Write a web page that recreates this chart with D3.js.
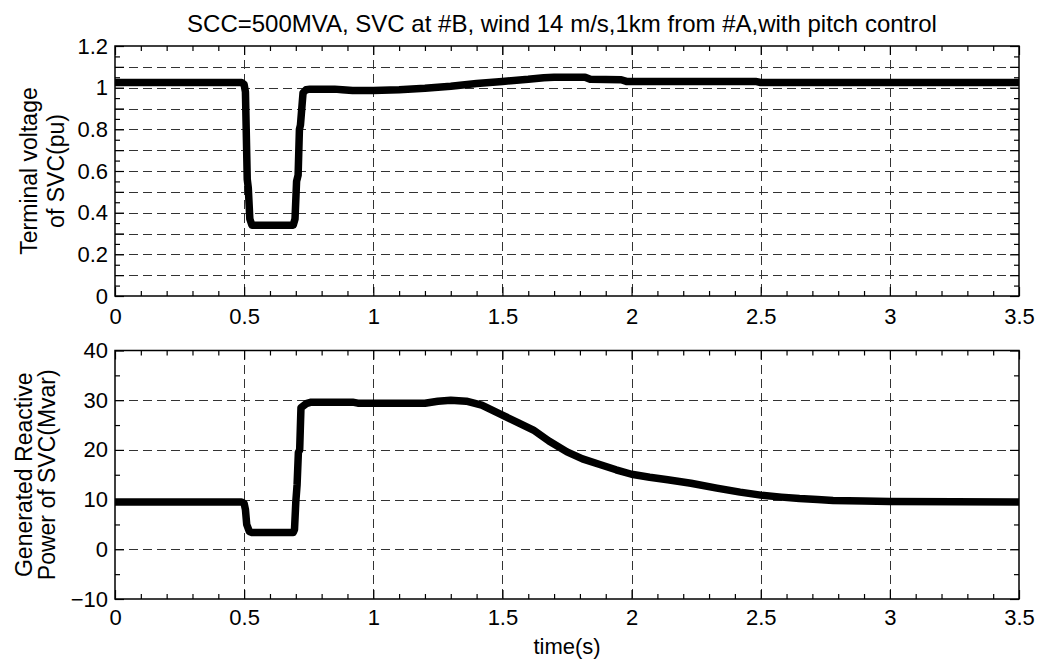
<!DOCTYPE html>
<html>
<head>
<meta charset="utf-8">
<script src="https://cdn.jsdelivr.net/npm/d3@7"></script>
<style>
  html, body { margin: 0; padding: 0; background: #fff; }
  svg text { font-family: "Liberation Sans", Arial, sans-serif; fill: #000; }
</style>
</head>
<body>
<svg id="chart" width="1037" height="662"></svg>
<script>
// ---------- data ----------
const titleText = "SCC=500MVA, SVC at #B, wind 14 m/s,1km from #A,with pitch control";
const xLabelText = "time(s)";
const topYLabel = ["Terminal voltage", "of SVC(pu)"];
const botYLabel = ["Generated Reactive", "Power of SVC(Mvar)"];

const xTicks = [0, 0.5, 1, 1.5, 2, 2.5, 3, 3.5];
const xTickLabels = ["0", "0.5", "1", "1.5", "2", "2.5", "3", "3.5"];
const xMinorTicks = [0.1,0.2,0.3,0.4,0.6,0.7,0.8,0.9,1.1,1.2,1.3,1.4,1.6,1.7,1.8,1.9,2.1,2.2,2.3,2.4,2.6,2.7,2.8,2.9,3.1,3.2,3.3,3.4];

const vTicks = [0, 0.1, 0.2, 0.3, 0.4, 0.5, 0.6, 0.7, 0.8, 0.9, 1.0, 1.1, 1.2];
const vTickLabels = ["0", "", "0.2", "", "0.4", "", "0.6", "", "0.8", "", "1", "", "1.2"];
const vMinorTicks = [0.05,0.15,0.25,0.35,0.45,0.55,0.65,0.75,0.85,0.95,1.05,1.15];

const qTicks = [-10, 0, 10, 20, 30, 40];
const qTickLabels = ["\u221210", "0", "10", "20", "30", "40"];
const qMinorTicks = [-5, 5, 15, 25, 35];

const timeV = [0, 0.49, 0.5, 0.505, 0.508, 0.512, 0.516, 0.522, 0.53, 0.69, 0.697, 0.703, 0.709, 0.714, 0.718, 0.728, 0.74, 0.755, 0.85, 0.88, 0.92, 1.0, 1.1, 1.2, 1.3, 1.4, 1.5, 1.6, 1.66, 1.7, 1.82, 1.84, 1.96, 1.98, 2.48, 2.5, 3.5];
const voltage = [1.025, 1.025, 1.015, 0.98, 0.8, 0.56, 0.52, 0.37, 0.34, 0.34, 0.37, 0.55, 0.58, 0.8, 0.82, 0.975, 0.99, 0.993, 0.993, 0.99, 0.986, 0.986, 0.99, 0.997, 1.007, 1.02, 1.03, 1.04, 1.048, 1.05, 1.05, 1.04, 1.038, 1.03, 1.03, 1.025, 1.025];

const timeQ = [0, 0.49, 0.5, 0.505, 0.51, 0.52, 0.53, 0.69, 0.695, 0.70, 0.705, 0.71, 0.715, 0.72, 0.74, 0.76, 0.92, 0.94, 1.2, 1.25, 1.3, 1.36, 1.42, 1.5, 1.56, 1.62, 1.68, 1.75, 1.81, 1.88, 1.94, 2.0, 2.07, 2.14, 2.23, 2.33, 2.42, 2.5, 2.58, 2.65, 2.72, 2.78, 2.9, 3.0, 3.5];
const reactive = [9.5, 9.5, 9.2, 8.0, 5.0, 3.6, 3.4, 3.4, 4.0, 9.5, 13, 19.5, 20, 28.5, 29.3, 29.6, 29.6, 29.4, 29.4, 29.8, 30.0, 29.8, 29.0, 27.0, 25.5, 24.0, 21.8, 19.6, 18.2, 17.0, 16.0, 15.1, 14.5, 14.0, 13.3, 12.3, 11.5, 10.9, 10.5, 10.2, 10.0, 9.8, 9.7, 9.6, 9.5];

// ---------- layout ----------
const svg = d3.select("#chart");
const left = 115, right = 1019;
const panels = [
  { top: 46, bottom: 296, domain: [0, 1.2], ticks: vTicks, labels: vTickLabels, minor: vMinorTicks,
    t: timeV, y: voltage, ylab: topYLabel, labX: [37, 64] },
  { top: 350.5, bottom: 599, domain: [-10, 40], ticks: qTicks, labels: qTickLabels, minor: qMinorTicks,
    t: timeQ, y: reactive, ylab: botYLabel, labX: [32, 55] }
];

const x = d3.scaleLinear().domain([0, 3.5]).range([left, right]);
const tickFont = 22;

panels.forEach((p, pi) => {
  const y = d3.scaleLinear().domain(p.domain).range([p.bottom, p.top]);
  const g = svg.append("g");

  // grid
  const grid = g.append("g").attr("stroke", "#333").attr("stroke-width", 1)
    .attr("stroke-dasharray", "9,5").attr("shape-rendering", "crispEdges");
  grid.selectAll("line.v").data(xTicks.slice(1, -1)).join("line")
    .attr("x1", d => Math.round(x(d)) + 0.5).attr("x2", d => Math.round(x(d)) + 0.5)
    .attr("y1", p.top).attr("y2", p.bottom);
  grid.selectAll("line.h").data(p.ticks.filter(d => d !== p.domain[0] && d !== p.domain[1])).join("line")
    .attr("x1", left).attr("x2", right)
    .attr("y1", d => Math.round(y(d)) + 0.5).attr("y2", d => Math.round(y(d)) + 0.5);

  // data line
  const line = d3.line().x((d, i) => x(p.t[i])).y(d => y(d));
  g.append("path").datum(p.y).attr("d", line)
    .attr("fill", "none").attr("stroke", "#000").attr("stroke-width", 7.5)
    .attr("stroke-linejoin", "round").attr("stroke-linecap", "butt");

  // axes (ticks inside)
  const styleAxis = sel => {
    sel.select(".domain").remove();
    sel.selectAll("line").attr("stroke", "#000").attr("stroke-width", 1.2);
    sel.selectAll("text").attr("font-size", tickFont).attr("font-family", "Liberation Sans, Arial, sans-serif").attr("fill", "#000");
  };
  // bottom
  g.append("g").attr("transform", `translate(0,${p.bottom})`)
    .call(d3.axisBottom(x).tickValues(xTicks).tickSize(-9).tickPadding(pi === 0 ? 12 : 10)
      .tickFormat((d, i) => xTickLabels[i])).call(styleAxis)
    .selectAll("text").attr("dy", "0.71em");
  g.append("g").attr("transform", `translate(0,${p.bottom})`)
    .call(d3.axisBottom(x).tickValues(xMinorTicks).tickSize(-5).tickFormat("")).call(styleAxis);
  // top
  g.append("g").attr("transform", `translate(0,${p.top})`)
    .call(d3.axisTop(x).tickValues(xTicks).tickSize(-9).tickFormat("")).call(styleAxis);
  g.append("g").attr("transform", `translate(0,${p.top})`)
    .call(d3.axisTop(x).tickValues(xMinorTicks).tickSize(-5).tickFormat("")).call(styleAxis);
  // left
  g.append("g").attr("transform", `translate(${left},0)`)
    .call(d3.axisLeft(y).tickValues(p.ticks).tickSize(-9).tickPadding(7)
      .tickFormat((d, i) => p.labels[i])).call(styleAxis);
  g.append("g").attr("transform", `translate(${left},0)`)
    .call(d3.axisLeft(y).tickValues(p.minor).tickSize(-5).tickFormat("")).call(styleAxis);
  // right
  g.append("g").attr("transform", `translate(${right},0)`)
    .call(d3.axisRight(y).tickValues(p.ticks).tickSize(-9).tickFormat("")).call(styleAxis);
  g.append("g").attr("transform", `translate(${right},0)`)
    .call(d3.axisRight(y).tickValues(p.minor).tickSize(-5).tickFormat("")).call(styleAxis);

  // box
  g.append("rect").attr("x", left).attr("y", p.top)
    .attr("width", right - left).attr("height", p.bottom - p.top)
    .attr("fill", "none").attr("stroke", "#000").attr("stroke-width", 1.5);

  // y label
  const cy = (p.top + p.bottom) / 2;
  p.ylab.forEach((s, k) => {
    svg.append("text")
      .attr("transform", `translate(${p.labX[k]},${cy}) rotate(-90)`)
      .attr("text-anchor", "middle").attr("font-size", 23).text(s);
  });
});

// title
svg.append("text").attr("x", (left + right) / 2 - 5).attr("y", 32)
  .attr("text-anchor", "middle").attr("font-size", 24).text(titleText);

// x label
svg.append("text").attr("x", (left + right) / 2).attr("y", 654)
  .attr("text-anchor", "middle").attr("font-size", 22).text(xLabelText);
</script>
</body>
</html>
